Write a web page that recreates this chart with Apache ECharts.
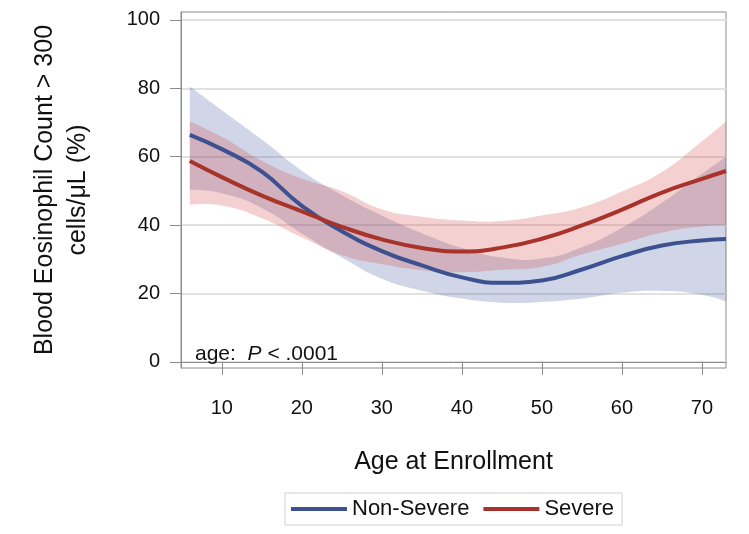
<!DOCTYPE html>
<html>
<head>
<meta charset="utf-8">
<script src="https://cdn.jsdelivr.net/npm/echarts@6/dist/echarts.min.js"></script>
<style>html,body{margin:0;padding:0;background:#fff;}#c{width:749px;height:534px;}</style>
</head>
<body>
<div id="c"></div>
<script>
// ---- data ----
var ages      = [6, 10, 15, 20, 25, 30, 35, 40, 45, 50, 55, 60, 65, 70, 73];
var nsMid     = [66.4, 62.2, 55.6, 45.6, 38.2, 32.4, 28.2, 24.7, 23.1, 23.8, 27.0, 30.9, 34.0, 35.5, 35.9];
var nsLow     = [50.3, 49.3, 45.0, 37.5, 30.5, 24.3, 20.8, 18.5, 17.3, 17.5, 18.5, 20.2, 20.7, 19.6, 17.6];
var nsHigh    = [80.5, 73.6, 65.0, 55.9, 48.8, 42.8, 37.6, 33.3, 30.5, 30.2, 33.5, 39.2, 46.5, 55.0, 60.0];
var sevMid    = [58.7, 54.0, 48.6, 44.0, 39.5, 35.8, 33.3, 32.3, 33.4, 36.0, 39.9, 44.5, 49.5, 53.5, 55.8];
var sevLow    = [45.9, 45.7, 42.0, 36.4, 31.2, 28.6, 26.8, 26.2, 26.9, 27.8, 31.4, 34.5, 37.8, 39.6, 40.0];
var sevHigh   = [70.3, 65.8, 58.8, 53.6, 49.9, 44.6, 42.4, 41.3, 41.2, 42.8, 45.2, 49.8, 55.5, 64.5, 70.3];
var xTicks    = [10, 20, 30, 40, 50, 60, 70];
var yTicks    = [0, 20, 40, 60, 80, 100];
var seriesNames = ['Non-Severe', 'Severe'];

function pairs(v) { return ages.map(function (a, i) { return [a, v[i]]; }); }

// smooth path segment through points (same scheme as ECharts line smoothing)
function smoothSegs(pts, smooth) {
  var d = '';
  var n = pts.length;
  var cps = [];
  for (var i = 0; i < n; i++) {
    var p = pts[i];
    if (i === 0 || i === n - 1) { cps.push({ a: p, b: p }); continue; }
    var pr = pts[i - 1], nx = pts[i + 1];
    var vx = nx[0] - pr[0], vy = nx[1] - pr[1];
    var l0 = Math.hypot(p[0] - pr[0], p[1] - pr[1]);
    var l1 = Math.hypot(nx[0] - p[0], nx[1] - p[1]);
    var r = l1 / (l0 + l1);
    cps.push({
      a: [p[0] - vx * smooth * (1 - r), p[1] - vy * smooth * (1 - r)],
      b: [p[0] + vx * smooth * r, p[1] + vy * smooth * r]
    });
  }
  for (var j = 0; j < n - 1; j++) {
    var c1 = cps[j].b, c2 = cps[j + 1].a, e = pts[j + 1];
    d += ' C' + c1[0] + ',' + c1[1] + ' ' + c2[0] + ',' + c2[1] + ' ' + e[0] + ',' + e[1];
  }
  return d;
}

function bandSeries(lo, hi, fill, z) {
  return {
    type: 'custom', silent: true, z: z,
    data: [[ages[0], lo[0]]],
    renderItem: function (params, api) {
      var up = ages.map(function (a, i) { return api.coord([a, hi[i]]); });
      var dn = ages.map(function (a, i) { return api.coord([a, lo[i]]); }).reverse();
      var d = 'M' + up[0][0] + ',' + up[0][1] + smoothSegs(up, 0.5) +
              ' L' + dn[0][0] + ',' + dn[0][1] + smoothSegs(dn, 0.5) + ' Z';
      return { type: 'path', shape: { pathData: d }, style: { fill: fill, stroke: null } };
    }
  };
}

var blue = '#3d5190', red = '#a8332a';
var font = '"Liberation Sans", Arial, sans-serif';

var chart = echarts.init(document.getElementById('c'));
chart.setOption({
  animation: false,
  backgroundColor: '#fff',
  grid: { left: 181, right: 23, top: 12, bottom: 166, show: true, borderColor: '#8c8c8c', borderWidth: 1, backgroundColor: '#fff' },
  title: {
    left: 190, top: 339,
    text: '{a|age:  }{p|P}{a| < .0001}',
    textStyle: { fontWeight: 'normal', rich: {
      a: { fontFamily: font, fontSize: 21, color: '#111', fontWeight: 'normal' },
      p: { fontFamily: font, fontSize: 21, color: '#111', fontStyle: 'italic', fontWeight: 'normal' }
    } }
  },
  legend: {
    data: seriesNames,
    left: 285, top: 493,
    padding: [5, 8, 5, 6],
    borderColor: '#cfcfcf', borderWidth: 1,
    itemWidth: 56, itemHeight: 4, itemGap: 14,
    icon: 'rect',
    textStyle: { fontFamily: font, fontSize: 22, color: '#111' }
  },
  xAxis: {
    type: 'value', min: 4.9, max: 73,
    name: 'Age at Enrollment', nameLocation: 'middle', nameGap: 82,
    nameTextStyle: { fontFamily: font, fontSize: 25, color: '#111' },
    axisLine: { show: true, lineStyle: { color: '#8c8c8c', width: 1 } },
    axisTick: { show: true, customValues: xTicks, length: 13, lineStyle: { color: '#8c8c8c', width: 1 } },
    axisLabel: { customValues: xTicks, margin: 30, fontFamily: font, fontSize: 20, color: '#111' },
    splitLine: { show: false }
  },
  yAxis: {
    type: 'value', min: -1.8, max: 102.3,
    name: 'Blood Eosinophil Count > 300\ncells/\u03bcL (%)', nameLocation: 'middle', nameGap: 86, nameRotate: 90,
    nameTextStyle: { fontFamily: font, fontSize: 25, color: '#111', lineHeight: 33, align: 'center' },
    axisLine: { show: true, lineStyle: { color: '#8c8c8c', width: 1 } },
    axisTick: { show: true, customValues: yTicks, length: 11, lineStyle: { color: '#8c8c8c', width: 1 } },
    axisLabel: { customValues: yTicks, margin: 21, fontFamily: font, fontSize: 20, color: '#111' },
    splitLine: { show: true, lineStyle: { color: '#e1e1e1', width: 2 } }
  },
  series: [
    bandSeries(nsLow, nsHigh, 'rgba(60,85,155,0.24)', 1),
    bandSeries(sevLow, sevHigh, 'rgba(210,60,60,0.24)', 2),
    { name: seriesNames[0], type: 'line', data: pairs(nsMid), smooth: true, symbol: 'none',
      itemStyle: { color: blue }, lineStyle: { color: blue, width: 4 }, z: 5 },
    { name: seriesNames[1], type: 'line', data: pairs(sevMid), smooth: true, symbol: 'none',
      itemStyle: { color: red }, lineStyle: { color: red, width: 4 }, z: 5 }
  ]
});
</script>
</body>
</html>
